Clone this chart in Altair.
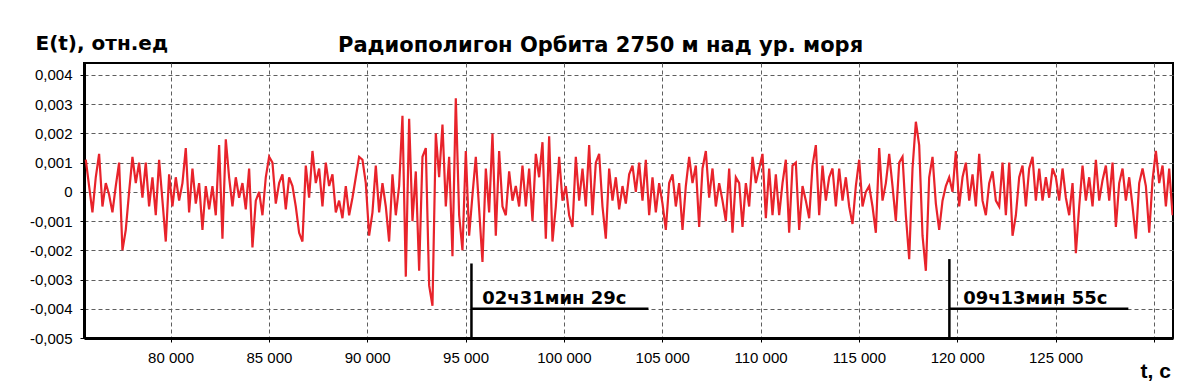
import altair as alt
import pandas as pd

# --- data -------------------------------------------------------------
T_START = 75690      # s, first sample
T_STEP = 169.5       # s, sampling interval

# E(t) in units of 0.001 (отн.ед), left to right
seg1 = [1.1, 0.2, -0.7, 0.5, 1.3, -0.5, 0.3, -0.1, -0.7, 0.2,
        1.0, -2.0, -1.3, 0.0, 1.2, 0.3, 1.0, -0.2, 1.0, -0.5,
        0.5, -0.8, 1.1, -0.3, -1.7, 0.6, -0.5, 0.5, -0.3, 0.3,
        1.5, -0.7, 0.8, -0.4, 0.3, -1.3, 0.2, -0.6, 0.2, -0.8,
        1.6, -1.6, 1.8, 0.5, -0.5, 0.5, -0.2, 0.3, -0.6, 0.8,
        -1.9, -0.3, 0.0, -0.8, 0.5, 1.2, 1.0, -0.4, 0.3, 0.6,
        -0.6, 0.5, 0.2, -0.5, -1.4, -1.7]
seg2 = [0.9, -0.2, 1.4, 0.3, 0.8, -0.5, 1.0, 0.2, 0.6, -0.7,
        -0.3, -0.9, 0.2, -0.8, -0.2, 0.5, 1.2, 1.1, 0.3, -1.5,
        -0.7, 0.9, -0.7, 0.3, -0.5, -1.7, 0.6, -0.8, 0.2, 2.6,
        -2.9, 2.5, -1.0, 0.7, -2.7, 1.2, 1.5, -3.2, -3.9, 2.0,
        0.5, 2.3, -0.5, 1.2, -2.2, 3.2, -0.8, -2.0, 1.4, -1.5,
        -0.1, 1.2, -0.6, -2.4, 0.8, -0.7, 2.0, -1.5, 1.4, -0.5,
        -0.8, 0.7, -0.3, 0.2, -0.5]
seg3 = [0.9, -0.5, 0.8, -1.0, 1.3, 0.5, 1.7, -1.6, 1.9, -1.7,
        -0.5, 1.2, -0.3, 0.2, -0.8, -1.2, 1.2, -0.3, 0.8, -0.5,
        1.6, -0.8, 1.0, 1.3, -0.5, -1.6, 0.8, -0.3, 0.5, -0.6,
        0.2, -0.4, 0.6, 0.9, 0.0, 1.0, -0.3, 1.1, -0.8, 0.5,
        -0.7, 0.3, -0.4, -1.3, 0.3, 0.6, -0.5, 0.3, -1.3, 0.2,
        1.2, 0.3, 0.9, -1.2, 0.8, 1.4, -0.2, 0.8, -0.5, 0.3,
        -0.3, -1.0, 0.8, -1.4, 0.5]
seg4 = [0.3, -1.2, 0.3, -0.5, 1.2, 0.3, 0.8, 1.3, -0.9, 0.8,
        -0.8, 0.6, -0.8, 0.3, 1.1, -1.4, 0.9, 1.0, -1.3, 0.2,
        -0.3, -0.9, 0.9, 1.6, -0.8, 0.9, -0.3, 0.5, 0.8, -0.5,
        0.8, -0.3, 0.5, -0.5, -1.1, 0.2, 1.1, -0.5, 0.0, 0.2,
        -0.5, -1.4, 1.5, -0.3, 0.3, 1.3, 0.2, -1.0, 1.0, 1.2,
        -0.8, -2.3, 0.8, 2.4, 1.6, -1.5, -2.7, 0.5, 1.2, -0.4,
        -1.3, -0.3, 0.2, 0.5, 0.0]
seg5 = [1.4, -0.5, 0.5, 1.0, -0.3, 0.6, -0.5, 1.3, -0.3, -0.8,
        0.3, 0.7, -0.3, -0.5, 1.0, -0.8, 1.0, -1.5, -0.8, 0.5,
        0.9, -0.5, 0.8, 1.2, -0.3, 0.8, -0.3, 0.5, -0.2, 0.8,
        0.5, -0.3, 0.8, -0.2, -0.8, 0.3, -2.1, -0.5, 0.9, -0.3,
        0.5, -0.5, 1.1, -0.3, 0.4, 0.9, -0.3, 1.0, -1.2, 0.3,
        0.8, -0.3, 0.5, -0.5, -1.6, 0.3, 0.8, 0.2, -1.4, 0.4,
        1.4, 0.3, 0.9, -0.5, 0.8, -0.8]

values = seg1 + seg2 + seg3 + seg4 + seg5
times = [T_START + i * T_STEP for i in range(len(values))]

x_ticks = [80000, 85000, 90000, 95000, 100000, 105000, 110000, 115000,
           120000, 125000, 130000]
y_ticks = [-5, -4, -3, -2, -1, 0, 1, 2, 3, 4]

# annotation markers (time, value in 0.001)
mark_t = [95300, 119600]
mark_top = [-2.45, -2.3]
mark_end = [104300, 128700]
mark_level = [-4.0, -4.0]
mark_text = ["02ч31мин 29с", "09ч13мин 55с"]
mark_text_t = [95850, 120300]
mark_text_y = [-3.82, -3.82]

X_DOMAIN = [75600, 130970]
Y_DOMAIN = [-5, 4.41]

df = pd.DataFrame({"t": times, "E": values})
vdf = pd.DataFrame({"t": mark_t, "E": mark_top, "y2": [-5, -5]})
hdf = pd.DataFrame({"t": mark_t, "t2": mark_end, "E": mark_level})
tdf = pd.DataFrame({"t": mark_text_t, "E": mark_text_y, "text": mark_text})

# --- chart ------------------------------------------------------------
xscale = alt.Scale(domain=X_DOMAIN, nice=False, zero=False)
yscale = alt.Scale(domain=Y_DOMAIN, nice=False, zero=False)

xaxis = alt.Axis(
    values=x_ticks, grid=True, gridColor="#5e5e5e", gridDash=[4, 3],
    gridWidth=1, domainColor="black", domainWidth=3, tickColor="black",
    tickSize=4, tickWidth=1,
    labelExpr="datum.value == 130000 ? '' : replace(format(datum.value, ','), ',', ' ')",
    labelFont="Liberation Sans", labelFontSize=15, labelColor="black",
    labelPadding=8, labelFlush=False, labelOverlap=False,
    title="t, c", titleFont="Liberation Sans", titleFontSize=21,
    titleFontWeight="bold", titleColor="black", titleAngle=0,
    titleX=1056, titleY=33, titleAlign="left", titleBaseline="middle",
)
yaxis = alt.Axis(
    values=y_ticks, grid=True, gridColor="#5e5e5e", gridDash=[4, 3],
    gridWidth=1, domainColor="black", domainWidth=3, tickColor="black",
    tickSize=4, tickWidth=1,
    labelExpr="datum.value == 0 ? '0' : (datum.value < 0 ? '-' : '') + '0,00' + abs(datum.value)",
    labelFont="Liberation Sans", labelFontSize=15, labelColor="black",
    labelPadding=8, labelFlush=False, labelOverlap=False,
    title="E(t), отн.ед", titleFont="DejaVu Sans", titleFontSize=20,
    titleFontWeight="bold", titleColor="black", titleAngle=0,
    titleX=-49, titleY=-20, titleAlign="left", titleBaseline="middle",
)

X = alt.X("t:Q", scale=xscale, axis=xaxis)
Y = alt.Y("E:Q", scale=yscale, axis=yaxis)

signal = alt.Chart(df).mark_line(color="#e8232b", strokeWidth=2.2, clip=True).encode(
    x=X, y=Y,
)
vrules = alt.Chart(vdf).mark_rule(color="black", strokeWidth=2.5).encode(
    x=X, y=Y, y2="y2:Q",
)
hrules = alt.Chart(hdf).mark_rule(color="black", strokeWidth=2.5).encode(
    x=X, x2="t2:Q", y=Y,
)
texts = alt.Chart(tdf).mark_text(
    align="left", baseline="alphabetic", font="DejaVu Sans",
    fontSize=18, fontWeight="bold", color="black",
).encode(x=X, y=Y, text="text:N")

chart = alt.layer(signal, vrules, hrules, texts).properties(
    width=1089, height=275,
    autosize=alt.AutoSizeParams(type="none"),
    padding={"left": 76, "top": 55, "right": 16, "bottom": 45},
    background="white",
    title=alt.TitleParams(
        text="Радиополигон Орбита 2750 м над ур. моря",
        font="DejaVu Sans", fontSize=21, fontWeight="bold", color="black",
        anchor="start", frame="group", dx=254, dy=31, offset=8,
    ),
).configure_view(stroke="black", strokeWidth=2)

chart.save("out.html", embed_options={"renderer": "svg", "actions": False})
